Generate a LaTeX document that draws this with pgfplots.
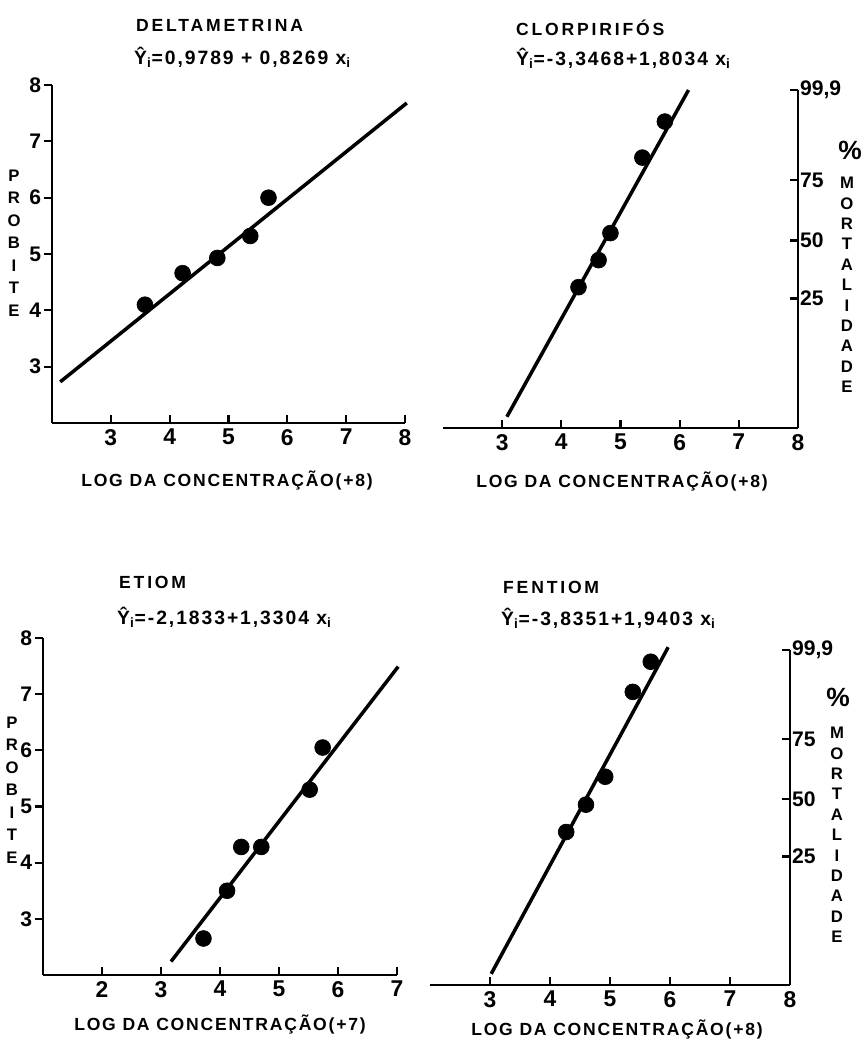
\documentclass[border=0pt]{standalone}
\usepackage{fontspec}
\setmainfont{Liberation Sans}
\newfontfamily\spaced{Liberation Sans}[LetterSpace=10]
\newfontfamily\spacedT{Liberation Sans}[LetterSpace=16]
\usepackage{pgfplots}
\pgfplotsset{compat=1.18}

% common look of the four probit panels
\pgfplotsset{
  probit/.style={
    scale only axis, anchor=south west, clip=false,
    ymin=2, ymax=8,
    axis x line*=bottom, xtick pos=bottom, xtick align=inside,
    axis line style={line width=1.6pt, black},
    major tick length=1.6mm,
    tick style={line width=1.3pt, black},
    y tick label style={font=\bfseries\fontsize{12}{12}\selectfont, inner sep=1.5pt},
    x tick label style={font=\bfseries\fontsize{13}{13}\selectfont},
    /pgf/number format/assume math mode=true,
  },
  leftp/.style={probit, axis y line*=left, ytick pos=left, ytick align=outside,
    ytick={3,...,8}},
  rightp/.style={probit, axis y line*=right, ytick pos=right, yticklabel pos=right,
    ytick align=inside, xmin=2, xmax=8, xtick={3,...,8},
    ytick={4.3,5.33,6.4,8}, yticklabels={25,50,75,{99,9}},
    y tick label style={inner sep=1pt}},
  fitline/.style={black, line width=2pt, no markers},
  dots/.style={only marks, mark=*, mark size=4.5pt, black},
}
\newcommand\ttl{\spacedT\bfseries\fontsize{10}{10}\selectfont}
\newcommand\eqf{\spaced\bfseries\fontsize{11}{11}\selectfont}
\newcommand\lbl{\spaced\bfseries\fontsize{10}{10}\selectfont}

\begin{document}
\begin{tikzpicture}
\useasboundingbox (0,0) rectangle (173mm,-210.6mm);

% DELTAMETRINA
\begin{axis}[leftp, at={(52*0.2mm,-423*0.2mm)}, width=70.6mm, height=67.6mm,
  xmin=2, xmax=8, xtick={3,...,8}]
\addplot[fitline] coordinates {(2.14,2.73) (8.03,7.68)};
\addplot[dots] coordinates {(3.58,4.10) (4.22,4.66) (4.81,4.93) (5.37,5.32) (5.68,6.00)};
\end{axis}

% CLORPIRIFOS
\begin{axis}[rightp, at={(443*0.2mm,-428*0.2mm)}, width=71mm, height=67.6mm]
\addplot[fitline] coordinates {(3.08,2.20) (6.15,8.00)};
\addplot[dots] coordinates {(4.29,4.50) (4.63,4.98) (4.83,5.46) (5.37,6.80) (5.75,7.44)};
\end{axis}

% ETIOM
\begin{axis}[leftp, at={(43*0.2mm,-975*0.2mm)}, width=70.8mm, height=67.4mm,
  xmin=1, xmax=7, xtick={2,...,7}]
\addplot[fitline] coordinates {(3.17,2.24) (7.02,7.49)};
\addplot[dots] coordinates {(3.72,2.65) (4.12,3.50) (4.36,4.28) (4.70,4.28) (5.52,5.30) (5.74,6.05)};
\end{axis}

% FENTIOM
\begin{axis}[rightp, at={(430*0.2mm,-985*0.2mm)}, width=72mm, height=67mm]
\addplot[fitline] coordinates {(3.02,2.20) (5.97,8.05)};
\addplot[dots] coordinates {(4.27,4.74) (4.60,5.23) (4.92,5.73) (5.38,7.25) (5.68,7.79)};
\end{axis}

\begin{scope}[x=0.2mm, y=-0.2mm]
% titles and equations
\node[font=\ttl, anchor=west] at (130,25) {DELTAMETRINA};
\node[font=\eqf, anchor=west] at (128,57) {Ŷ\textsubscript{i}=0,9789 + 0,8269 x\textsubscript{i}};
\node[font=\ttl, anchor=west] at (510,28) {CLORPIRIFÓS};
\node[font=\eqf, anchor=west] at (510,58) {Ŷ\textsubscript{i}=-3,3468+1,8034 x\textsubscript{i}};
\node[font=\ttl, anchor=west] at (113,582) {ETIOM};
\node[font=\eqf, anchor=west] at (111,617) {Ŷ\textsubscript{i}=-2,1833+1,3304 x\textsubscript{i}};
\node[font=\ttl, anchor=west] at (497,587) {FENTIOM};
\node[font=\eqf, anchor=west] at (495,618) {Ŷ\textsubscript{i}=-3,8351+1,9403 x\textsubscript{i}};
% axis titles
\node[font=\lbl] at (227,480) {LOG DA CONCENTRAÇÃO(+8)};
\node[font=\lbl] at (622,482) {LOG DA CONCENTRAÇÃO(+8)};
\node[font=\lbl] at (220,1025) {LOG DA CONCENTRAÇÃO(+7)};
\node[font=\lbl] at (617,1030) {LOG DA CONCENTRAÇÃO(+8)};
\node[align=center, inner sep=0pt, font=\bfseries\fontsize{9.5}{12.8}\selectfont] at (14,243) {P\\R\\O\\B\\I\\T\\E};
\node[align=center, inner sep=0pt, font=\bfseries\fontsize{9.5}{12.8}\selectfont] at (12,790) {P\\R\\O\\B\\I\\T\\E};
\node[align=center, inner sep=0pt, font=\bfseries\fontsize{9.5}{11.6}\selectfont] at (847,285) {M\\O\\R\\T\\A\\L\\I\\D\\A\\D\\E};
\node[align=center, inner sep=0pt, font=\bfseries\fontsize{9.5}{11.6}\selectfont] at (837,835) {M\\O\\R\\T\\A\\L\\I\\D\\A\\D\\E};
\node[font=\bfseries\fontsize{15}{15}\selectfont] at (850,150) {\%};
\node[font=\bfseries\fontsize{15}{15}\selectfont] at (838,697) {\%};
\end{scope}
\end{tikzpicture}
\end{document}
